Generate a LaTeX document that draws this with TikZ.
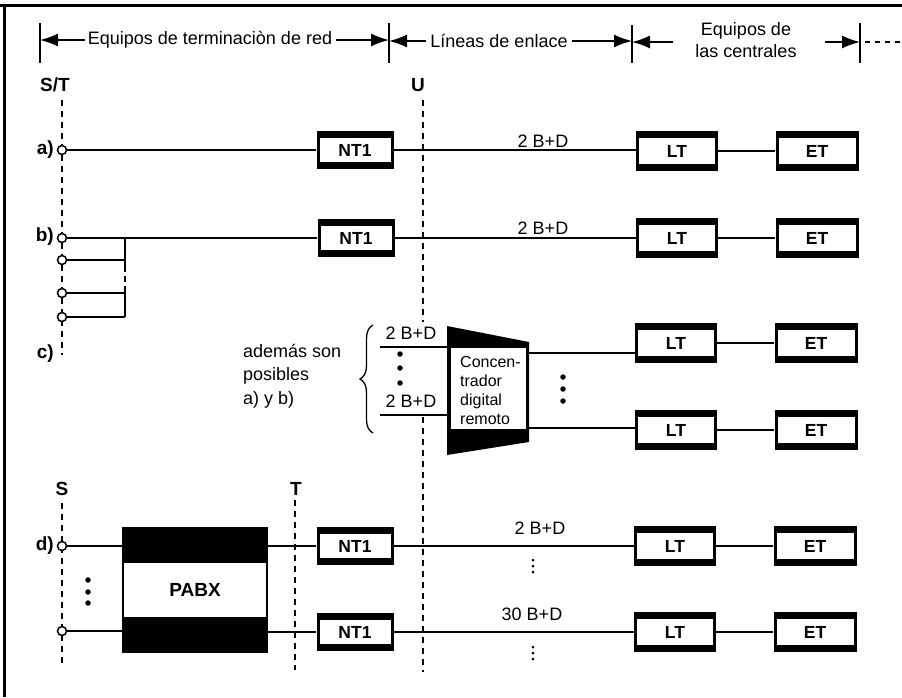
\documentclass[tikz,border=0pt]{standalone}
\usepackage{fontspec}
\setmainfont{Liberation Sans}
\usetikzlibrary{arrows.meta,decorations.pathreplacing}
\begin{document}
\begin{tikzpicture}[x=1pt,y=-1pt,
  every node/.style={inner sep=0pt, font=\fontsize{18}{22}\selectfont},
  wire/.style={line width=1.8pt},
  sepdash/.style={line width=1.7pt, dash pattern=on 6pt off 5pt},
  hdarrow/.style={line width=1.6pt, -{Latex[length=18pt,width=13pt]}},
  tickline/.style={line width=2pt},
  term/.style={circle, draw, fill=white, line width=1.5pt, minimum size=9pt},
  lbl/.style={font=\bfseries\fontsize{19}{22}\selectfont},
  blk/.style={fill=black, font=\bfseries\fontsize{17.5}{20}\selectfont,
     path picture={\fill[white] ([xshift=3pt,yshift=-7pt]path picture bounding box.north west) rectangle ([xshift=-3pt,yshift=7pt]path picture bounding box.south east);}},
  ntbox/.style={blk, minimum width=77pt, minimum height=38pt},
  ltbox/.style={blk, minimum width=82pt, minimum height=40pt},
  etbox/.style={blk, minimum width=83pt, minimum height=40pt},
  pabxbox/.style={fill=black, minimum width=146pt, minimum height=126pt,
     font=\bfseries\fontsize{19}{22}\selectfont,
     path picture={\fill[white] ([xshift=2pt,yshift=-36pt]path picture bounding box.north west) rectangle ([xshift=-2pt,yshift=36pt]path picture bounding box.south east);}},
  bigdot/.style={circle, fill=black, minimum size=5.5pt},
  smalldot/.style={circle, fill=black, minimum size=3pt}
]
\useasboundingbox (0,0) rectangle (902,697);
% frame
\draw[line width=3pt] (0,5) -- (902,5);
\draw[line width=3pt] (4,5) -- (4,697);

% header
\draw[tickline] (40,23) -- (40,63);
\draw[tickline] (389,23) -- (389,63);
\draw[tickline] (632,25) -- (632,63);
\draw[tickline] (860,23) -- (860,63);
\coordinate (t1) at (40,41);
\coordinate (t2) at (389,41);
\coordinate (t3) at (632,42);
\coordinate (t4) at (860,42);
\node (h1) at (210,40) {Equipos de terminaciòn de red};
\node (h2) at (499,41) {Líneas de enlace};
\node[align=center] (h3) at (746,40) {Equipos de\\las centrales};
\draw[hdarrow] ([xshift=-3pt]h1.west) -- (h1.west -| t1);
\draw[hdarrow] ([xshift=4pt]h1.east) -- (h1.east -| t2);
\draw[hdarrow] ([xshift=-4pt]h2.west) -- (h2.west -| t2);
\draw[hdarrow] ([xshift=4pt]h2.east) -- (h2.east -| t3);
\coordinate (a3) at (673,42);
\coordinate (a4) at (825,42);
\draw[hdarrow] (a3) -- (a3 -| t3);
\draw[hdarrow] (a4) -- (a4 -| t4);
\coordinate (dd) at (902,42);
\draw[line width=1.5pt, dash pattern=on 5pt off 5pt] ([xshift=5pt]t4) -- (dd);

% reference point labels
\node[lbl] (lST) at (55,85) {S/T};
\node[lbl] (lU) at (418,85) {U};
\draw[sepdash] (62,100) -- (62,355);
\draw[sepdash] (423,100) -- (423,322);
\draw[sepdash] (423,417) -- (423,672);

% row a
\node[lbl, anchor=east] (ra) at (54,150) {a)};
\node[ntbox] (nta) at (355,150) {NT1};
\node[ltbox] (lta) at (677,151) {LT};
\node[etbox] (eta) at (817,151) {ET};
\node[term] (ca) at (62,150) {};
\draw[wire] (ca.east) -- (nta.west);
\draw[wire] (nta.east) -- (nta.east -| lta.west);
\draw[wire] (lta.east) -- (eta.west);
\node (la) at (543,141) {2 B+D};

% row b
\node[lbl, anchor=east] (rb) at (54,237) {b)};
\node[ntbox] (ntb) at (356,238) {NT1};
\node[ltbox] (ltb) at (677,238) {LT};
\node[etbox] (etb) at (817,238) {ET};
\node[term] (cb1) at (62,238) {};
\node[term] (cb2) at (62,260) {};
\node[term] (cb3) at (62,293) {};
\node[term] (cb4) at (62,317) {};
\coordinate (bA) at (125,238);
\coordinate (bB) at (125,266);
\coordinate (bC) at (125,290);
\coordinate (bD) at (125,317);
\draw[wire] (cb1.east) -- (ntb.west);
\draw[wire] (ntb.east) -- (ltb.west);
\draw[wire] (ltb.east) -- (etb.west);
\draw[wire] (bA) -- (bB);
\draw[wire, dash pattern=on 6pt off 4pt] (bB) -- (bC);
\draw[wire] (bC) -- (bD);
\draw[wire] (cb2.east) -- (cb2.east -| bA);
\draw[wire] (cb3.east) -- (cb3.east -| bA);
\draw[wire] (cb4.east) -- (cb4.east -| bA);
\node (lb) at (543,228) {2 B+D};

% row c
\node[lbl, anchor=east] (rc) at (54,354) {c)};
\node[anchor=north west, align=left, font=\fontsize{18}{23.5}\selectfont] (adem) at (243,344) {además son\\posibles\\a) y b)};
\draw[line width=1.3pt, decorate, decoration={brace, amplitude=13pt, aspect=0.5}] (373,433) -- (373,325);
\coordinate (in1) at (380,347);
\coordinate (in2) at (380,415);
\coordinate (c1) at (447,326);
\coordinate (c2) at (529,342);
\coordinate (c3) at (529,442);
\coordinate (c4) at (447,455);
\fill (c1) -- (c2) -- (c3) -- (c4) -- cycle;
\fill[white] (451,348) rectangle (526,429);
\node[anchor=north west, align=left, font=\fontsize{16}{19}\selectfont] (conc) at (460,356) {Concen-\\trador\\digital\\remoto};
\draw[wire] (in1) -- (in1 -| c1);
\draw[wire] (in2) -- (in2 -| c1);
\node (lc1) at (411,333) {2 B+D};
\node (lc2) at (411,401) {2 B+D};
\node[bigdot] (dc1) at (400,354) {};
\node[bigdot] (dc2) at (400,368) {};
\node[bigdot] (dc3) at (400,383) {};
\node[ltbox] (lt3) at (676,343) {LT};
\node[etbox] (et3) at (816,343) {ET};
\node[ltbox] (lt4) at (676,430) {LT};
\node[etbox] (et4) at (816,430) {ET};
\coordinate (co1) at (529,353);
\coordinate (co2) at (529,428);
\draw[wire] (co1) -- (co1 -| lt3.west);
\draw[wire] (co2) -- (co2 -| lt4.west);
\draw[wire] (lt3.east) -- (et3.west);
\draw[wire] (lt4.east) -- (et4.west);
\node[bigdot] (dr1) at (563,377) {};
\node[bigdot] (dr2) at (563,389) {};
\node[bigdot] (dr3) at (563,401) {};

% row d
\node[lbl] (lS) at (62,489) {S};
\node[lbl] (lT) at (296,489) {T};
\draw[sepdash] (62,503) -- (62,663);
\draw[sepdash] (295,500) -- (295,670);
\node[lbl, anchor=east] (rd) at (54,546) {d)};
\node[term] (cd1) at (62,546) {};
\node[term] (cd2) at (62,631) {};
\node[pabxbox] (pabx) at (195,590) {PABX};
\node[bigdot] (dp1) at (88,580) {};
\node[bigdot] (dp2) at (88,592) {};
\node[bigdot] (dp3) at (88,603) {};
\node[ntbox] (ntd1) at (355,546) {NT1};
\node[ntbox] (ntd2) at (355,632) {NT1};
\node[ltbox] (ltd1) at (675,546) {LT};
\node[etbox] (etd1) at (815,546) {ET};
\node[ltbox] (ltd2) at (675,632) {LT};
\node[etbox] (etd2) at (815,632) {ET};
\draw[wire] (cd1.east) -- (cd1.east -| pabx.west);
\draw[wire] (cd2.east) -- (cd2.east -| pabx.west);
\draw[wire] (pabx.east |- ntd1.west) -- (ntd1.west);
\draw[wire] (pabx.east |- ntd2.west) -- (ntd2.west);
\draw[wire] (ntd1.east) -- (ltd1.west);
\draw[wire] (ntd2.east) -- (ltd2.west);
\draw[wire] (ltd1.east) -- (etd1.west);
\draw[wire] (ltd2.east) -- (etd2.west);
\node (ld1) at (540,528) {2 B+D};
\node (ld2) at (532,614) {30 B+D};
\node[smalldot] (m1) at (533,560) {};
\node[smalldot] (m2) at (533,566) {};
\node[smalldot] (m3) at (533,572) {};
\node[smalldot] (m4) at (533,647) {};
\node[smalldot] (m5) at (533,653) {};
\node[smalldot] (m6) at (533,659) {};
\end{tikzpicture}
\end{document}
